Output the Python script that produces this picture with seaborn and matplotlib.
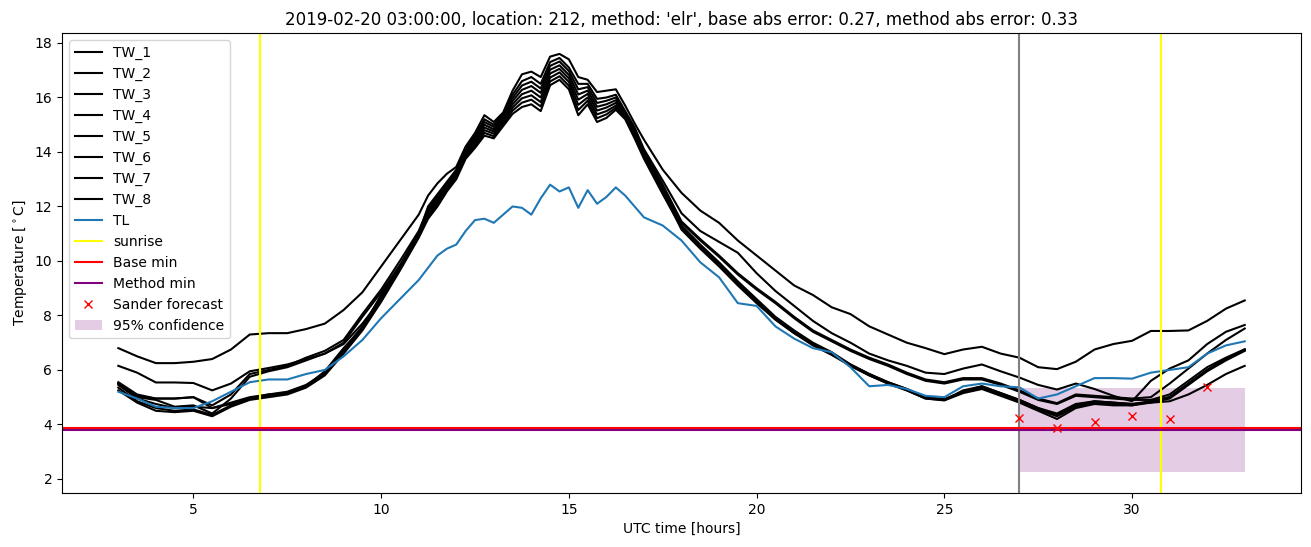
import pandas as pd
import seaborn as sns
import matplotlib
matplotlib.use("Agg")
import matplotlib.pyplot as plt

# time axis [hours], finer around the midday peak
hours = [3.0, 3.5, 4.0, 4.5, 5.0, 5.5, 6.0, 6.5, 7.0, 7.5, 8.0, 8.5, 9.0, 9.5, 10.0, 10.5, 11.0,
         11.25, 11.5, 11.75, 12.0, 12.25, 12.5, 12.75, 13.0, 13.25, 13.5, 13.75, 14.0, 14.25,
         14.5, 14.75, 15.0, 15.25, 15.5, 15.75, 16.0, 16.25, 16.5, 16.75, 17.0,
         17.5, 18.0, 18.5, 19.0, 19.5, 20.0, 20.5, 21.0, 21.5, 22.0, 22.5, 23.0, 23.5, 24.0,
         24.5, 25.0, 25.5, 26.0, 26.5, 27.0, 27.5, 28.0, 28.5, 29.0, 29.5, 30.0, 30.5, 31.0,
         31.5, 32.0, 32.5, 33.0]

tw_1 = [6.8, 6.5, 6.25, 6.25, 6.3, 6.4, 6.75, 7.3, 7.35, 7.35, 7.5, 7.7, 8.2, 8.85, 9.8, 10.75, 11.7,
        12.4, 12.85, 13.2, 13.45, 14.2, 14.7, 15.35, 15.1, 15.45, 16.25, 16.85, 16.95, 16.75, 17.5, 17.6,
        17.4, 16.75, 16.65, 16.2, 16.25, 16.3, 15.7, 15.05, 14.45,
        13.35, 12.5, 11.85, 11.4, 10.75, 10.2, 9.65, 9.1, 8.75, 8.3, 8.05, 7.6, 7.3, 7.0, 6.8, 6.58,
        6.75, 6.85, 6.6, 6.45, 6.1, 6.03, 6.3, 6.75, 6.95, 7.07, 7.43, 7.43, 7.45, 7.8, 8.25, 8.55]
tw_2 = [6.15, 5.9, 5.54, 5.54, 5.52, 5.25, 5.5, 5.95, 6.07, 6.2, 6.4, 6.6, 6.95, 7.7, 8.6, 9.8, 11.0,
        12.0, 12.45, 12.9, 13.35, 14.15, 14.6, 15.2, 15.0, 15.4, 16.1, 16.6, 16.75, 16.5, 17.3, 17.45,
        17.1, 16.5, 16.5, 15.95, 16.0, 16.1, 15.5, 14.9, 14.1,
        12.95, 11.75, 11.1, 10.7, 10.3, 9.55, 8.9, 8.35, 7.8, 7.35, 7.0, 6.6, 6.35, 6.15, 5.9, 5.85,
        6.05, 6.2, 5.95, 5.72, 5.45, 5.28, 5.5, 5.3, 5.05, 4.85, 5.6, 6.05, 6.35, 6.95, 7.4, 7.65]
tw_3 = [5.55, 5.1, 4.95, 4.95, 5.0, 4.7, 5.1, 5.85, 6.0, 6.15, 6.45, 6.7, 7.1, 8.05, 8.95, 10.0, 11.1,
        11.92, 12.37, 12.84, 13.29, 14.08, 14.52, 15.1, 14.92, 15.32, 15.98, 16.44, 16.58, 16.33, 17.16,
        17.32, 16.97, 16.3, 16.38, 15.8, 15.88, 16.0, 15.45, 14.83, 14.05,
        12.8, 11.45, 10.8, 10.2, 9.55, 9.0, 8.5, 7.95, 7.45, 7.1, 6.75, 6.45, 6.2, 5.9, 5.65, 5.55,
        5.7, 5.7, 5.5, 5.25, 4.95, 4.78, 5.1, 5.05, 5.0, 4.95, 5.0, 5.5, 6.05, 6.6, 7.1, 7.52]
tw_4 = [5.5, 5.0, 4.9, 4.65, 4.7, 4.4, 4.95, 5.75, 5.95, 6.1, 6.35, 6.6, 7.0, 7.95, 8.85, 9.85, 11.0,
        11.85, 12.3, 12.78, 13.23, 14.01, 14.45, 15.0, 14.83, 15.25, 15.87, 16.28, 16.42, 16.17, 17.02,
        17.18, 16.83, 16.11, 16.25, 15.66, 15.75, 15.9, 15.4, 14.77, 13.99,
        12.7, 11.4, 10.75, 10.15, 9.5, 8.95, 8.45, 7.9, 7.4, 7.05, 6.7, 6.4, 6.15, 5.85, 5.6, 5.5,
        5.65, 5.65, 5.45, 5.2, 4.9, 4.75, 5.05, 5.0, 4.95, 4.9, 4.9, 5.1, 5.6, 6.1, 6.45, 6.76]
tw_5 = [5.45, 4.95, 4.75, 4.6, 4.65, 4.6, 4.75, 4.95, 5.1, 5.2, 5.45, 5.9, 6.75, 7.6, 8.7, 9.75, 10.95,
        11.7, 12.15, 12.66, 13.11, 13.88, 14.3, 14.8, 14.67, 15.1, 15.63, 15.97, 16.08, 15.83, 16.73,
        16.92, 16.57, 15.73, 16.0, 15.38, 15.5, 15.7, 15.3, 14.63, 13.87,
        12.6, 11.3, 10.6, 9.95, 9.25, 8.6, 7.95, 7.45, 7.0, 6.65, 6.2, 5.85, 5.55, 5.3, 5.0, 4.93,
        5.2, 5.4, 5.15, 4.9, 4.6, 4.35, 4.7, 4.85, 4.8, 4.75, 4.85, 5.0, 5.5, 6.0, 6.4, 6.75]
tw_6 = [5.35, 4.85, 4.6, 4.5, 4.55, 4.35, 4.7, 4.95, 5.05, 5.15, 5.4, 5.85, 6.7, 7.5, 8.6, 9.7, 10.9,
        11.63, 12.07, 12.6, 13.05, 13.82, 14.22, 14.7, 14.58, 15.02, 15.52, 15.81, 15.92, 15.67, 16.59,
        16.78, 16.43, 15.54, 15.88, 15.24, 15.38, 15.62, 15.25, 14.57, 13.81,
        12.5, 11.25, 10.55, 9.9, 9.2, 8.55, 7.9, 7.4, 6.95, 6.6, 6.2, 5.85, 5.55, 5.3, 5.0, 4.9,
        5.2, 5.35, 5.1, 4.85, 4.55, 4.3, 4.65, 4.8, 4.75, 4.7, 4.85, 5.0, 5.5, 6.0, 6.4, 6.72]
tw_7 = [5.25, 4.8, 4.5, 4.45, 4.5, 4.3, 4.65, 4.9, 5.0, 5.1, 5.35, 5.8, 6.6, 7.45, 8.5, 9.65, 10.85,
        11.55, 12.0, 12.55, 13.0, 13.75, 14.15, 14.6, 14.5, 14.95, 15.4, 15.65, 15.75, 15.5, 16.45,
        16.65, 16.3, 15.35, 15.75, 15.1, 15.25, 15.55, 15.2, 14.5, 13.75,
        12.45, 11.2, 10.5, 9.85, 9.15, 8.5, 7.85, 7.35, 6.95, 6.6, 6.15, 5.8, 5.5, 5.25, 4.95, 4.88,
        5.15, 5.3, 5.05, 4.8, 4.5, 4.2, 4.6, 4.75, 4.7, 4.7, 4.8, 4.95, 5.45, 5.95, 6.35, 6.7]
tw_8 = [5.5, 5.05, 4.95, 4.95, 5.0, 4.6, 4.8, 5.0, 5.1, 5.15, 5.4, 5.95, 6.8, 7.55, 8.75, 9.8, 11.0,
        11.78, 12.22, 12.72, 13.17, 13.95, 14.37, 14.9, 14.75, 15.18, 15.75, 16.12, 16.25, 16.0, 16.88,
        17.05, 16.7, 15.92, 16.13, 15.52, 15.63, 15.8, 15.35, 14.7, 13.93,
        12.55, 11.15, 10.45, 9.8, 9.1, 8.45, 7.85, 7.35, 6.9, 6.55, 6.15, 5.8, 5.5, 5.25, 4.95, 4.9,
        5.25, 5.4, 5.15, 4.9, 4.6, 4.4, 4.75, 4.85, 4.8, 4.75, 4.8, 4.85, 5.1, 5.45, 5.85, 6.15]
tl = [5.2, 4.95, 4.65, 4.6, 4.6, 4.85, 5.2, 5.55, 5.65, 5.65, 5.85, 6.0, 6.5, 7.1, 7.9, 8.6, 9.3,
      9.75, 10.2, 10.45, 10.6, 11.1, 11.5, 11.55, 11.4, 11.7, 12.0, 11.95, 11.7, 12.3, 12.8, 12.55,
      12.7, 11.95, 12.6, 12.1, 12.35, 12.7, 12.4, 12.0, 11.6,
      11.3, 10.75, 9.95, 9.4, 8.45, 8.35, 7.6, 7.15, 6.8, 6.65, 6.1, 5.4, 5.45, 5.3, 5.05, 5.0,
      5.4, 5.5, 5.4, 5.36, 4.95, 5.1, 5.4, 5.7, 5.7, 5.68, 5.9, 6.0, 6.1, 6.6, 6.9, 7.05]

sunrise = [6.78, 30.78]
forecast_time = 27.0
base_min = 3.87
method_min = 3.81

sander_hours = [27, 28, 29, 30, 31, 32]
sander_temp = [4.22, 3.86, 4.08, 4.32, 4.2, 5.37]

conf_hours = [27.0, 33.0]
conf_low = [2.25, 2.25]
conf_high = [5.33, 5.33]

df = pd.DataFrame({"hour": hours, "TW_1": tw_1, "TW_2": tw_2, "TW_3": tw_3, "TW_4": tw_4,
                   "TW_5": tw_5, "TW_6": tw_6, "TW_7": tw_7, "TW_8": tw_8, "TL": tl})

fig, ax = plt.subplots(figsize=(13.11, 5.47), dpi=100)
fig.subplots_adjust(left=0.0473, right=0.9924, top=0.9397, bottom=0.0987)

for col in ["TW_1", "TW_2", "TW_3", "TW_4", "TW_5", "TW_6", "TW_7", "TW_8"]:
    sns.lineplot(data=df, x="hour", y=col, color="black", label=col, ax=ax)
sns.lineplot(data=df, x="hour", y="TL", color="#1f77b4", label="TL", ax=ax)

ax.axvline(sunrise[0], color="yellow", label="sunrise")
ax.axvline(sunrise[1], color="yellow")
ax.axvline(forecast_time, color="gray")
ax.axhline(base_min, color="red", label="Base min")
ax.axhline(method_min, color="purple", label="Method min")
ax.plot(sander_hours, sander_temp, "x", color="red", label="Sander forecast")
ax.fill_between(conf_hours, conf_low, conf_high, color="purple", alpha=0.2,
                linewidth=0, label="95% confidence")

ax.set_title("2019-02-20 03:00:00, location: 212, method: 'elr', "
             "base abs error: 0.27, method abs error: 0.33")
ax.set_xlabel("UTC time [hours]")
ax.set_ylabel("Temperature [$^\\circ$C]")
ax.legend(loc="upper left")

fig.savefig("out.png", dpi=100)
plt.close()
